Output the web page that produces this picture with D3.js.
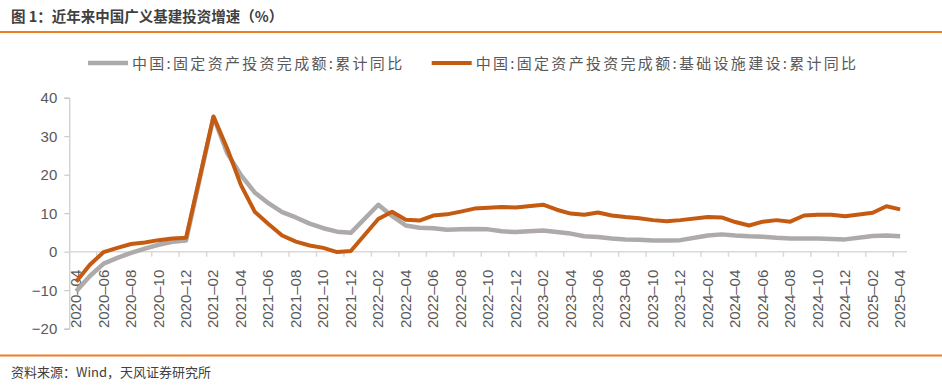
<!DOCTYPE html>
<html>
<head>
<meta charset="utf-8">
<script src="https://cdn.jsdelivr.net/npm/d3@7"></script>
<style>
  body { margin: 0; background: #fff; }
  svg { display: block; }
  .axis-label { font-family: "Liberation Sans", Arial, sans-serif; font-size: 15px; fill: #595959; }
  .legend-text { font-family: "Noto Sans CJK SC", sans-serif; font-size: 15px; fill: #595959; letter-spacing: 2.3px; }
</style>
</head>
<body>
<div id="chart-area"></div>
<script>
'use strict';
const svg_width = 942;
const svg_height = 385;

// months, January has no separate release (Jan-Feb combined)
const months = [
  '2020-04','2020-05','2020-06','2020-07','2020-08','2020-09','2020-10','2020-11','2020-12',
  '2021-01','2021-02','2021-03','2021-04','2021-05','2021-06','2021-07','2021-08','2021-09','2021-10','2021-11','2021-12',
  '2022-01','2022-02','2022-03','2022-04','2022-05','2022-06','2022-07','2022-08','2022-09','2022-10','2022-11','2022-12',
  '2023-01','2023-02','2023-03','2023-04','2023-05','2023-06','2023-07','2023-08','2023-09','2023-10','2023-11','2023-12',
  '2024-01','2024-02','2024-03','2024-04','2024-05','2024-06','2024-07','2024-08','2024-09','2024-10','2024-11','2024-12',
  '2025-01','2025-02','2025-03','2025-04'
];

const fai_total = [
  -10.3, -6.3, -3.1, -1.6, -0.3, 0.8, 1.8, 2.6, 2.9,
  null, 35.0, 25.6, 19.9, 15.4, 12.6, 10.3, 8.9, 7.3, 6.1, 5.2, 4.9,
  null, 12.2, 9.3, 6.8, 6.2, 6.1, 5.7, 5.8, 5.9, 5.8, 5.3, 5.1,
  null, 5.5, 5.1, 4.7, 4.0, 3.8, 3.4, 3.2, 3.1, 2.9, 2.9, 3.0,
  null, 4.2, 4.5, 4.2, 4.0, 3.9, 3.6, 3.4, 3.4, 3.4, 3.3, 3.2,
  null, 4.1, 4.2, 4.0
];

const fai_infra = [
  -7.8, -3.4, -0.1, 1.0, 2.0, 2.4, 3.0, 3.4, 3.6,
  null, 35.1, 26.8, 17.3, 10.4, 7.2, 4.2, 2.6, 1.6, 1.0, -0.1, 0.2,
  null, 8.5, 10.4, 8.3, 8.1, 9.4, 9.7, 10.4, 11.2, 11.4, 11.6, 11.5,
  null, 12.2, 10.9, 9.9, 9.6, 10.2, 9.4, 9.0, 8.7, 8.2, 7.9, 8.2,
  null, 9.0, 8.9, 7.7, 6.8, 7.8, 8.2, 7.8, 9.4, 9.6, 9.6, 9.2,
  null, 10.1, 11.8, 11.0
];

const y_ticks = [-20, -10, 0, 10, 20, 30, 40];

const title_text = '图 1：近年来中国广义基建投资增速（%）';
const source_text = '资料来源：Wind，天风证券研究所';
const legend_names = ['中国:固定资产投资完成额:累计同比', '中国:固定资产投资完成额:基础设施建设:累计同比'];
const colors = ['#AEAAAA', '#C55A11'];

const svg = d3.select('#chart-area')
  .append('svg')
    .attr('width', svg_width)
    .attr('height', svg_height);

// header and footer
svg.append('text')
  .attr('x', 11).attr('y', 22)
  .style('font-family', '"Noto Sans CJK SC", sans-serif')
  .style('font-size', '14.5px').style('font-weight', 'bold')
  .style('fill', '#404040')
  .text(title_text);
svg.append('line')
  .attr('x1', 0).attr('x2', svg_width).attr('y1', 32).attr('y2', 32)
  .attr('stroke', '#EE7F22').attr('stroke-width', 2);
svg.append('line')
  .attr('x1', 0).attr('x2', svg_width).attr('y1', 355.5).attr('y2', 355.5)
  .attr('stroke', '#EE7F22').attr('stroke-width', 2);
svg.append('text')
  .attr('x', 11).attr('y', 377)
  .style('font-family', '"Noto Sans CJK SC", sans-serif')
  .style('font-size', '13px')
  .style('fill', '#404040')
  .text(source_text);

// scales
const x_scale = d3.scaleBand()
  .domain(months)
  .range([69.3, 907])
  .padding(0);

const y_scale = d3.scaleLinear()
  .domain([-20, 40])
  .range([328.7, 97.7]);

const x_mid = d => x_scale(d) + x_scale.bandwidth() / 2;

// y axis
const y_axis = d3.axisLeft(y_scale)
  .tickValues(y_ticks)
  .tickSize(5)
  .tickPadding(7)
  .tickFormat(d => d < 0 ? '\u2212' + Math.abs(d) : d);

const gy = svg.append('g')
  .attr('transform', `translate(${x_scale.range()[0]},0)`)
  .call(y_axis);
gy.select('.domain').attr('stroke', '#BFBFBF');
gy.selectAll('.tick line').attr('stroke', '#BFBFBF');
gy.selectAll('.tick text').attr('class', 'axis-label').attr('fill', null);

// x axis at zero, ticks on category boundaries every 2 months
const gx = svg.append('g')
  .attr('transform', `translate(0,${y_scale(0)})`);
gx.append('line')
  .attr('x1', x_scale.range()[0]).attr('x2', x_scale.range()[1])
  .attr('stroke', '#D9D9D9').attr('stroke-width', 1.5);
gx.selectAll('line.tick')
  .data(months.filter((d, i) => i > 0 && i % 2 === 0))
  .enter().append('line')
    .attr('class', 'tick')
    .attr('x1', d => x_scale(d)).attr('x2', d => x_scale(d))
    .attr('y1', 0).attr('y2', 5)
    .attr('stroke', '#D9D9D9').attr('stroke-width', 1.5);
gx.selectAll('text')
  .data(months.filter((d, i) => i % 2 === 0))
  .enter().append('text')
    .attr('class', 'axis-label')
    .attr('text-anchor', 'end')
    .attr('transform', d => `translate(${x_mid(d) + 5},18) rotate(-90)`)
    .text(d => d.replace('-', '\u2013'));

// lines, gaps in January bridged
const line = d3.line()
  .x(d => x_mid(d.month))
  .y(d => y_scale(d.value));

[fai_total, fai_infra].forEach((vals, k) => {
  const pts = months.map((m, i) => ({month: m, value: vals[i]}))
    .filter(d => d.value !== null);
  svg.append('path')
    .datum(pts)
    .attr('fill', 'none')
    .attr('stroke', colors[k])
    .attr('stroke-width', k === 0 ? 4.5 : 4)
    .attr('stroke-linejoin', 'round')
    .attr('d', line);
});

// legend
const legend_x = [88, 431.7];
legend_names.forEach((name, k) => {
  svg.append('line')
    .attr('x1', legend_x[k]).attr('x2', legend_x[k] + 40)
    .attr('y1', 63).attr('y2', 63)
    .attr('stroke', colors[k]).attr('stroke-width', k === 0 ? 4.5 : 4);
  svg.append('text')
    .attr('class', 'legend-text')
    .attr('x', legend_x[k] + 44).attr('y', 68.5)
    .text(name);
});
</script>
</body>
</html>
